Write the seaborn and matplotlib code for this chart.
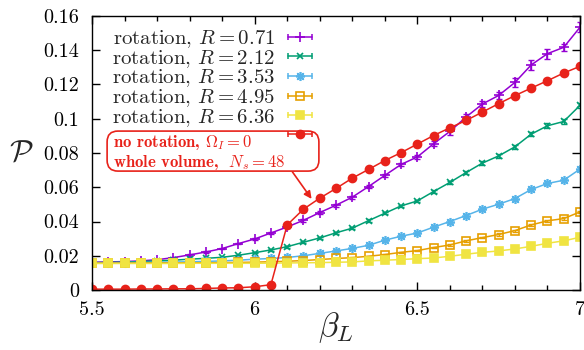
import numpy as np
import pandas as pd
import seaborn as sns
import matplotlib.pyplot as plt
from matplotlib.lines import Line2D
from matplotlib.legend_handler import HandlerLine2D
from matplotlib.patches import FancyBboxPatch
from matplotlib.ticker import MultipleLocator, FuncFormatter

beta = [5.5, 5.55, 5.6, 5.65, 5.7, 5.75, 5.8, 5.85, 5.9, 5.95,
        6.0, 6.05, 6.1, 6.15, 6.2, 6.25, 6.3, 6.35, 6.4, 6.45,
        6.5, 6.55, 6.6, 6.65, 6.7, 6.75, 6.8, 6.85, 6.9, 6.95, 7.0]

p_r071 = [0.0162, 0.0164, 0.0166, 0.0170, 0.0177, 0.0189, 0.0205, 0.0222, 0.0242, 0.0271,
          0.0298, 0.0333, 0.0368, 0.0407, 0.0452, 0.0495, 0.0542, 0.0604, 0.0669, 0.0733,
          0.0777, 0.0854, 0.0926, 0.1010, 0.1086, 0.1136, 0.1212, 0.1314, 0.1380, 0.1417, 0.1534]
p_r212 = [0.0160, 0.0161, 0.0163, 0.0166, 0.0170, 0.0174, 0.0180, 0.0185, 0.0191, 0.0203,
          0.0218, 0.0234, 0.0253, 0.0279, 0.0304, 0.0334, 0.0361, 0.0405, 0.0448, 0.0491,
          0.0520, 0.0575, 0.0628, 0.0686, 0.0741, 0.0783, 0.0836, 0.0910, 0.0959, 0.0984, 0.1078]
p_r353 = [0.0158, 0.0159, 0.0160, 0.0161, 0.0162, 0.0163, 0.0165, 0.0167, 0.0170, 0.0174,
          0.0180, 0.0184, 0.0190, 0.0200, 0.0214, 0.0228, 0.0243, 0.0261, 0.0291, 0.0314,
          0.0333, 0.0367, 0.0400, 0.0435, 0.0472, 0.0501, 0.0534, 0.0587, 0.0622, 0.0641, 0.0706]
p_r495 = [0.0157, 0.0157, 0.0157, 0.0158, 0.0158, 0.0158, 0.0159, 0.0159, 0.0160, 0.0161,
          0.0163, 0.0165, 0.0168, 0.0172, 0.0178, 0.0184, 0.0189, 0.0197, 0.0207, 0.0220,
          0.0230, 0.0248, 0.0263, 0.0287, 0.0306, 0.0324, 0.0347, 0.0380, 0.0404, 0.0417, 0.0456]
p_r636 = [0.0155, 0.0155, 0.0155, 0.0155, 0.0155, 0.0155, 0.0156, 0.0156, 0.0156, 0.0156,
          0.0156, 0.0157, 0.0158, 0.0159, 0.0160, 0.0162, 0.0164, 0.0170, 0.0174, 0.0178,
          0.0183, 0.0187, 0.0197, 0.0209, 0.0220, 0.0228, 0.0240, 0.0255, 0.0273, 0.0287, 0.0308]
p_norot = [0.0005, 0.0005, 0.0005, 0.0006, 0.0006, 0.0007, 0.0007, 0.0009, 0.0012, 0.0013,
           0.0019, 0.0031, 0.0380, 0.0472, 0.0536, 0.0593, 0.0653, 0.0704, 0.0756, 0.0802,
           0.0852, 0.0902, 0.0947, 0.0990, 0.1039, 0.1088, 0.1135, 0.1179, 0.1222, 0.1267, 0.1306]

e_r071 = [0.0003, 0.0003, 0.0003, 0.0003, 0.0003, 0.0004, 0.0004, 0.0004, 0.0005, 0.0005,
          0.0005, 0.0006, 0.0006, 0.0007, 0.0007, 0.0008, 0.0008, 0.0009, 0.0010, 0.0011,
          0.0012, 0.0015, 0.0018, 0.0020, 0.0020, 0.0022, 0.0025, 0.0030, 0.0030, 0.0022, 0.0030]
e_r212 = [0.0002, 0.0002, 0.0002, 0.0002, 0.0002, 0.0003, 0.0003, 0.0003, 0.0003, 0.0004,
          0.0004, 0.0004, 0.0005, 0.0005, 0.0005, 0.0006, 0.0006, 0.0007, 0.0007, 0.0008,
          0.0008, 0.0009, 0.0010, 0.0010, 0.0011, 0.0012, 0.0012, 0.0013, 0.0014, 0.0014, 0.0015]
e_r353 = [0.0002, 0.0002, 0.0002, 0.0002, 0.0002, 0.0002, 0.0002, 0.0002, 0.0003, 0.0003,
          0.0003, 0.0003, 0.0003, 0.0004, 0.0004, 0.0004, 0.0004, 0.0005, 0.0005, 0.0005,
          0.0006, 0.0006, 0.0006, 0.0007, 0.0007, 0.0008, 0.0008, 0.0009, 0.0009, 0.0010, 0.0010]
e_r495 = [0.0002, 0.0002, 0.0002, 0.0002, 0.0002, 0.0002, 0.0002, 0.0002, 0.0002, 0.0002,
          0.0002, 0.0002, 0.0003, 0.0003, 0.0003, 0.0003, 0.0003, 0.0003, 0.0004, 0.0004,
          0.0004, 0.0004, 0.0005, 0.0005, 0.0005, 0.0006, 0.0006, 0.0006, 0.0007, 0.0007, 0.0007]
e_r636 = [0.0001, 0.0001, 0.0001, 0.0001, 0.0001, 0.0001, 0.0001, 0.0001, 0.0001, 0.0001,
          0.0001, 0.0002, 0.0002, 0.0002, 0.0002, 0.0002, 0.0002, 0.0002, 0.0003, 0.0003,
          0.0003, 0.0003, 0.0003, 0.0003, 0.0004, 0.0004, 0.0004, 0.0004, 0.0004, 0.0005, 0.0005]
e_norot = [0.0001, 0.0001, 0.0001, 0.0001, 0.0001, 0.0001, 0.0001, 0.0001, 0.0001, 0.0001,
           0.0001, 0.0002, 0.0004, 0.0004, 0.0004, 0.0004, 0.0004, 0.0004, 0.0004, 0.0004,
           0.0004, 0.0004, 0.0004, 0.0004, 0.0004, 0.0004, 0.0004, 0.0004, 0.0004, 0.0004, 0.0004]

labels = [r'rotation, $R = 0.71$', r'rotation, $R = 2.12$', r'rotation, $R = 3.53$',
          r'rotation, $R = 4.95$', r'rotation, $R = 6.36$']
RED = '#e8221a'

sns.set_style('ticks')
plt.rcParams['font.family'] = 'serif'
plt.rcParams['font.serif'] = ['cmr10']
plt.rcParams['mathtext.fontset'] = 'cm'
plt.rcParams['axes.formatter.use_mathtext'] = True

fig = plt.figure(figsize=(5.84, 3.5), dpi=100)
ax = fig.add_axes([0.1575, 0.1714, 0.8356, 0.7829])

# (values, errors, colour, marker, size, filled)
series = [
    (p_r071, e_r071, '#9400d3', '+', 7, True),
    (p_r212, e_r212, '#009e73', 'x', 5, True),
    (p_r353, e_r353, '#56b4e9', (8, 2, 0), 6.5, True),
    (p_r495, e_r495, '#e69f00', 's', 6, False),
    (p_r636, e_r636, '#f0e442', 's', 6, True),
    (p_norot, e_norot, RED, 'o', 5.8, True),
]

handles = []
hmap = {}
for vals, errs, color, marker, ms, filled in series:
    df = pd.DataFrame({'beta': beta, 'P': vals})
    sns.lineplot(data=df, x='beta', y='P', ax=ax, color=color, lw=1.1,
                 marker=marker, markersize=ms, markeredgewidth=1.2,
                 markeredgecolor=color,
                 markerfacecolor=color if filled else 'none')
    ax.errorbar(beta, vals, yerr=errs, fmt='none', ecolor=color,
                elinewidth=1.0, capsize=2.5, capthick=1.0)
    # gnuplot-style key sample: |--marker--|
    caps = Line2D([], [], color=color, lw=1.1, marker='|', markersize=5,
                  markeredgewidth=1.1)
    mark = Line2D([], [], color=color, ls='none', marker=marker,
                  markersize=ms, markeredgewidth=1.2,
                  markerfacecolor=color if filled else 'none')
    hmap[caps] = HandlerLine2D(numpoints=2)
    handles.append((caps, mark))

ax.legend(handles, labels + [' '], handler_map=hmap, frameon=False,
          markerfirst=False, loc='upper right', bbox_to_anchor=(0.463, 0.956),
          fontsize=15, handlelength=1.73, handletextpad=0.34,
          labelspacing=-0.1, borderpad=0, borderaxespad=0, numpoints=1)

box = FancyBboxPatch((0.031, 0.434), 0.434, 0.146,
                     boxstyle='round,pad=0,rounding_size=0.022',
                     transform=ax.transAxes, ec=RED, fc='white', lw=1.2,
                     mutation_aspect=488 / 274, zorder=4)
ax.add_patch(box)
ax.text(0.043, 0.503, 'no rotation, $\\Omega_I = 0$\nwhole volume,  $N_s = 48$',
        transform=ax.transAxes, color=RED, fontfamily='cmb10', fontsize=12,
        va='center', ha='left', linespacing=1.05, zorder=6)
ax.annotate('', xy=(6.175, 0.0532), xytext=(6.116, 0.069),
            arrowprops=dict(arrowstyle='-|>', color=RED, lw=1.2,
                            mutation_scale=11, shrinkA=0, shrinkB=0))

ax.set_xlim(5.5, 7.0)
ax.set_ylim(0, 0.16)
ax.xaxis.set_major_locator(MultipleLocator(0.5))
ax.xaxis.set_minor_locator(MultipleLocator(0.1))
ax.yaxis.set_major_locator(MultipleLocator(0.02))
fmt = FuncFormatter(lambda v, p: f'{v:g}')
ax.xaxis.set_major_formatter(fmt)
ax.yaxis.set_major_formatter(fmt)
ax.tick_params(which='both', direction='in', top=True, right=True,
               width=1.0, colors='black', labelsize=14.5)
ax.tick_params(which='major', length=6)
ax.tick_params(which='minor', length=3.5)
ax.tick_params(axis='x', pad=8)
ax.tick_params(axis='y', pad=9.5)
for s in ax.spines.values():
    s.set_visible(True)
    s.set_linewidth(1.0)
    s.set_color('black')

ax.set_xlabel(r'$\beta_L$', fontsize=24)
ax.xaxis.set_label_coords(0.5, -0.075)
ax.set_ylabel(r'$\boldsymbol{\mathcal{P}}$', fontsize=22, rotation=0, va='center')
ax.yaxis.set_label_coords(-0.145, 0.5)

fig.savefig('out.png', dpi=100)
